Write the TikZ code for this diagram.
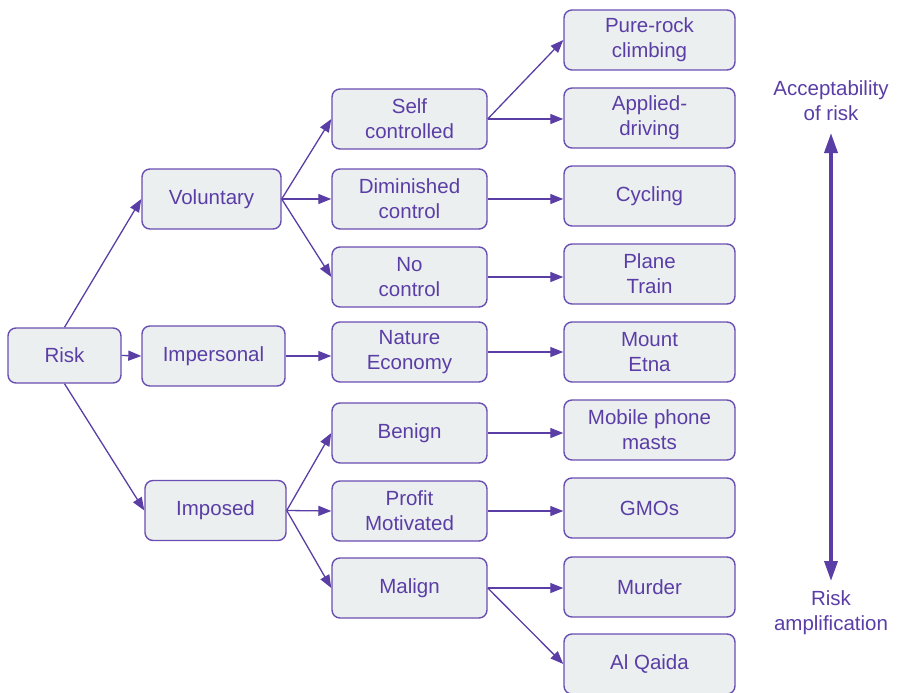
\documentclass[tikz,border=0pt]{standalone}
\usepackage{fontspec}
\setmainfont{Liberation Sans}
\usetikzlibrary{arrows.meta}
\definecolor{ink}{HTML}{5A3EA6}
\definecolor{edge}{HTML}{6A4FB2}
\definecolor{boxfill}{HTML}{ECEFF0}
\tikzset{
  box/.style={draw=edge, fill=boxfill, line width=1.4pt, rounded corners=8pt,
    text=ink, align=center, inner sep=2pt,
    font=\fontsize{20.5pt}{25pt}\selectfont},
  b1/.style={box, minimum width=113pt, minimum height=55pt},
  b2/.style={box, minimum width=140pt, minimum height=60pt},
  b3/.style={box, minimum width=155pt, minimum height=60pt},
  b4/.style={box, minimum width=171pt, minimum height=60pt},
  conn/.style={draw=ink, line width=1.3pt, -{Triangle[length=13pt,width=10pt]}},
  scalearrow/.style={draw=ink, line width=3.5pt, {Triangle[length=20pt,width=13pt]}-{Triangle[length=20pt,width=13pt]}},
  lbl/.style={text=ink, align=center, font=\fontsize{20.5pt}{25pt}\selectfont}
}
\begin{document}
\begin{tikzpicture}[x=1pt,y=-1pt]
\useasboundingbox (0,0) rectangle (898,693);
% column 1
\node[b1] (risk) at (64.5,355.5) {Risk};
% column 2
\node[b2, minimum width=139pt] (vol) at (211.5,199) {Voluntary};
\node[b2, minimum width=143pt] (imp) at (213.5,356) {Impersonal};
\node[b2, minimum width=141pt] (ims) at (215.5,510.5) {Imposed};
% column 3
\node[b3] (self) at (409.5,119) {Self\\controlled};
\node[b3] (dim) at (409.5,199) {Diminished\\control};
\node[b3] (noc) at (409.5,277) {No\\control};
\node[b3] (nat) at (409.5,352) {Nature\\Economy};
\node[b3] (ben) at (409.5,433) {Benign};
\node[b3] (pro) at (409.5,511) {Profit\\Motivated};
\node[b3] (mal) at (409.5,588) {Malign};
% column 4
\node[b4] (pure) at (649.5,40) {Pure-rock\\climbing};
\node[b4] (app) at (649.5,118) {Applied-\\driving};
\node[b4] (cyc) at (649.5,196) {Cycling};
\node[b4] (pla) at (649.5,274) {Plane\\Train};
\node[b4] (etn) at (649.5,352) {Mount\\Etna};
\node[b4] (mob) at (649.5,430) {Mobile phone\\masts};
\node[b4] (gmo) at (649.5,508) {GMOs};
\node[b4] (mur) at (649.5,587) {Murder};
\node[b4] (alq) at (649.5,664) {Al Qaida};
% connectors
\draw[conn] (risk.north) -- (vol.west);
\draw[conn] (risk.east) -- (imp.west);
\draw[conn] (risk.south) -- (ims.west);
\draw[conn] (vol.east) -- (self.west);
\draw[conn] (vol.east) -- (dim.west);
\draw[conn] (vol.east) -- (noc.west);
\draw[conn] (imp.east) -- (imp.east -| nat.west);
\draw[conn] (ims.east) -- (ben.west);
\draw[conn] (ims.east) -- (pro.west);
\draw[conn] (ims.east) -- (mal.west);
\draw[conn] (self.east) -- (pure.west);
\draw[conn] (self.east) -- (self.east -| app.west);
\draw[conn] (dim.east) -- (dim.east -| cyc.west);
\draw[conn] (noc.east) -- (noc.east -| pla.west);
\draw[conn] (nat.east) -- (nat.east -| etn.west);
\draw[conn] (ben.east) -- (ben.east -| mob.west);
\draw[conn] (pro.east) -- (pro.east -| gmo.west);
\draw[conn] (mal.east) -- (mal.east -| mur.west);
\draw[conn] (mal.east) -- (alq.west);
% scale
\node[lbl] (acc) at (831,101) {Acceptability\\of risk};
\node[lbl] (amp) at (831,613) {Risk\\amplification};
\coordinate (top) at (831,133);
\coordinate (bot) at (831,581);
\draw[scalearrow] (top) -- (bot);
\end{tikzpicture}
\end{document}
